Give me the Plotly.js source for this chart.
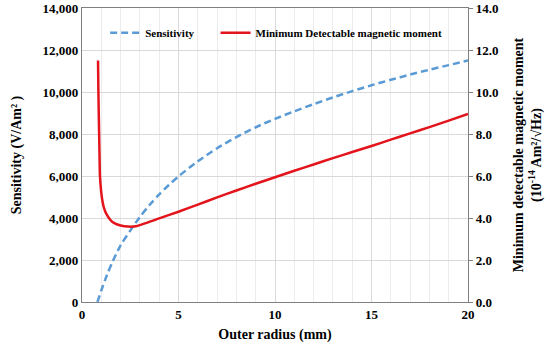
<!DOCTYPE html>
<html>
<head>
<meta charset="utf-8">
<script src="https://cdn.plot.ly/plotly-3.0.1.min.js"></script>
<style>html,body{margin:0;padding:0;background:#fff;}#chart{width:550px;height:346px;}</style>
</head>
<body>
<div id="chart"></div>
<script>
// Sensitivity (V/Am²) vs outer radius (mm)
const sensRadius = [0.8, 1.0, 1.3, 1.6, 2.0, 2.5, 3.0, 3.5, 4.0, 4.5, 5, 6, 7, 8, 9, 10, 11, 12, 13, 14, 15, 16, 17, 18, 19, 20];
const sensValues = [0, 550, 1300, 1950, 2700, 3400, 4050, 4620, 5120, 5570, 5980, 6700, 7320, 7850, 8320, 8720, 9080, 9420, 9740, 10040, 10320, 10580, 10830, 11060, 11280, 11500];

// Minimum detectable magnetic moment (10^-14 Am²/√Hz) vs outer radius (mm)
const mdmRadius = [0.83, 0.85, 0.87, 0.9, 0.93, 0.96, 1.0, 1.07, 1.15, 1.25, 1.36, 1.5, 1.7, 2.0, 2.4, 2.8, 3.35, 4, 5, 6, 7, 8, 9, 10, 11, 12, 13, 14, 15, 16, 17, 18, 19, 20];
const mdmValues = [11.5, 10.0, 8.9, 7.4, 6.0, 5.6, 5.2, 4.75, 4.45, 4.22, 4.05, 3.88, 3.74, 3.64, 3.59, 3.61, 3.77, 3.98, 4.3, 4.64, 4.98, 5.31, 5.63, 5.94, 6.25, 6.55, 6.85, 7.14, 7.43, 7.73, 8.03, 8.33, 8.64, 8.95];

const xTickVals = [0, 5, 10, 15, 20];

const serif = "'Liberation Serif', 'Times New Roman', serif";

const traces = [
  {
    x: sensRadius, y: sensValues, type: 'scatter', mode: 'lines',
    name: '<b>Sensitivity</b>&nbsp;&nbsp;&nbsp;&nbsp;&nbsp;&nbsp;', line: {color: '#5b9bd5', width: 2.5, dash: '7px,4px', shape: 'spline', smoothing: 0.8},
    yaxis: 'y'
  },
  {
    x: mdmRadius, y: mdmValues, type: 'scatter', mode: 'lines',
    name: '<b>Minimum Detectable magnetic moment</b>', line: {color: '#e3141b', width: 2.5, shape: 'spline', smoothing: 0.8},
    yaxis: 'y2'
  }
];

const layout = {
  width: 550, height: 346,
  margin: {l: 82, r: 82, t: 8, b: 44},
  paper_bgcolor: '#fff', plot_bgcolor: '#fff',
  font: {family: serif, color: '#000', size: 13},
  showlegend: true,
  legend: {
    orientation: 'h', x: 0.06, y: 0.965, xanchor: 'left', yanchor: 'top',
    font: {family: serif, size: 11, color: '#000'}, bgcolor: 'rgba(0,0,0,0)'
  },
  xaxis: {
    range: [0, 20], tickvals: xTickVals, ticktext: xTickVals.map(v => '<b>' + v + '</b>'),
    showgrid: true, gridcolor: '#d9d9d9', gridwidth: 1,
    minor: {dtick: 1, showgrid: true, gridcolor: '#ececec', gridwidth: 1},
    showline: true, linecolor: '#808080', linewidth: 1.2, mirror: true,
    ticks: '', zeroline: false,
    tickfont: {family: serif, size: 13, color: '#000'},
    title: {text: '<b>Outer radius (mm)</b>', font: {family: serif, size: 14, color: '#000'}, standoff: 8}
  },
  yaxis: {
    range: [0, 14000], dtick: 2000, tickformat: ',d',
    showgrid: true, gridcolor: '#d9d9d9', gridwidth: 1,
    showline: true, linecolor: '#808080', linewidth: 1.2,
    ticks: '', zeroline: false,
    tickfont: {family: serif, size: 13, color: '#000'},
    tickprefix: '<b>', ticksuffix: '</b>',
    title: {text: '<b>Sensitivity (V/Am² )</b>', font: {family: serif, size: 14, color: '#000'}, standoff: 17}
  },
  yaxis2: {
    range: [0, 14], dtick: 2, tickformat: '.1f', overlaying: 'y', side: 'right',
    showgrid: false, showline: true, linecolor: '#808080', linewidth: 1.2,
    ticks: 'outside', ticklen: 4, tickcolor: '#808080', zeroline: false,
    tickfont: {family: serif, size: 13, color: '#000'},
    tickprefix: '<b>', ticksuffix: '</b>',
    title: {text: '<b>Minimum detectable magnetic moment<br>(10<sup>-14</sup> Am²/√Hz)</b>', font: {family: serif, size: 14, color: '#000'}, standoff: 15}
  }
};

Plotly.newPlot('chart', traces, layout, {displayModeBar: false, staticPlot: true});
</script>
</body>
</html>
